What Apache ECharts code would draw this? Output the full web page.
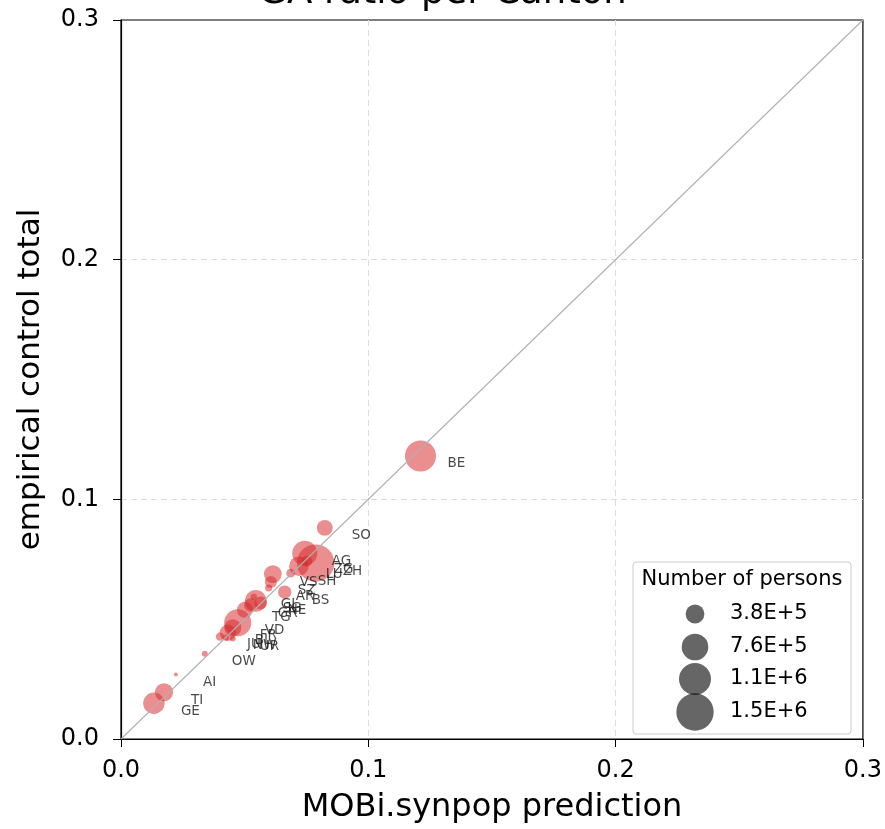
<!DOCTYPE html>
<html>
<head>
<meta charset="utf-8">
<script src="https://cdn.jsdelivr.net/npm/echarts@6/dist/echarts.min.js"></script>
<style>html,body{margin:0;padding:0;background:#fff}#c{width:885px;height:829px}</style>
</head>
<body>
<div id="c"></div>
<script>
const cantons   = ['ZH','BE','VD','AG','SG','GE','LU','TI','VS','FR','BL','SO','TG','GR','BS','NE','SZ','ZG','SH','JU','AR','NW','GL','UR','OW','AI'];
const predicted = [0.0787,0.1211,0.0472,0.0743,0.0545,0.0133,0.0719,0.0174,0.0614,0.0452,0.0432,0.0824,0.0501,0.0525,0.0662,0.0565,0.0606,0.0751,0.0686,0.0400,0.0597,0.0424,0.0537,0.0452,0.0339,0.0222];
const empirical = [0.0734,0.1181,0.0485,0.0775,0.0576,0.0149,0.0721,0.0195,0.0688,0.0464,0.0443,0.0881,0.0539,0.0559,0.0613,0.0568,0.0655,0.0742,0.0692,0.0427,0.0630,0.0423,0.0593,0.0419,0.0356,0.0269];
const persons   = [1504346,1031126,793129,670988,504686,493706,406506,353709,341463,315074,287023,271432,273801,197888,193070,178107,157301,125421,81351,73290,54954,42969,40349,36145,37575,16105];
const legendValues = [380000,760000,1100000,1500000];
const legendLabels = ['3.8E+5','7.6E+5','1.1E+6','1.5E+6'];
const axisTicks = [0.0,0.1,0.2,0.3];

const FONT = 'DejaVu Sans';
const sizeOf = p => 0.0305*Math.sqrt(p);

const chart = echarts.init(document.getElementById('c'));
const points = cantons.map((c,i)=>({name:c, value:[predicted[i], empirical[i], persons[i]]}));

const legendX = 633, legendY = 562, legendW = 218, legendH = 172;
const legendRowY = [614, 647, 679, 712];
const graphic = [
  {type:'rect', shape:{x:legendX,y:legendY,width:legendW,height:legendH,r:3}, style:{fill:'rgba(255,255,255,0.85)',stroke:'#cccccc',lineWidth:1}, z:100},
  {type:'text', x:legendX+legendW/2, y:580, style:{text:'Number of persons', font:'21px "'+FONT+'"', fill:'#000', align:'center', verticalAlign:'middle'}, z:101}
];
legendValues.forEach((v,i)=>{
  graphic.push({type:'circle', shape:{cx:695, cy:legendRowY[i], r:sizeOf(v)/2}, style:{fill:'rgba(0,0,0,0.6)'}, z:101});
  graphic.push({type:'text', x:730, y:legendRowY[i], style:{text:legendLabels[i], font:'21px "'+FONT+'"', fill:'#000', align:'left', verticalAlign:'middle'}, z:101});
});

const axisCommon = {
  type:'value', min:axisTicks[0], max:axisTicks[axisTicks.length-1], interval:0.1,
  nameLocation:'middle',
  axisLine:{show:true, lineStyle:{color:'#000', width:1.2}},
  axisTick:{show:true, length:8, lineStyle:{color:'#000', width:1}},
  splitLine:{show:true, showMinLine:false, showMaxLine:false, lineStyle:{color:'#dcdcdc', type:[6,4], width:1}}
};

chart.setOption({
  animation:false,
  backgroundColor:'#fff',
  title:{text:'GA ratio per Canton', left:'center', top:-30, textStyle:{fontFamily:FONT, fontSize:37, fontWeight:'normal', color:'#000'}},
  grid:{left:121, right:21, top:20, bottom:85, show:true, borderColor:'#000', borderWidth:1.2, backgroundColor:'transparent'},
  xAxis:Object.assign({}, axisCommon, {
    name:'MOBi.synpop prediction', nameGap:53,
    nameTextStyle:{fontFamily:FONT, fontSize:32, color:'#000'},
    axisLabel:{fontFamily:FONT, fontSize:24, color:'#000', margin:20, formatter:v=>v.toFixed(1)}}),
  yAxis:Object.assign({}, axisCommon, {
    name:'empirical control total', nameGap:75,
    nameTextStyle:{fontFamily:FONT, fontSize:31, color:'#000'},
    axisLabel:{fontFamily:FONT, fontSize:24, color:'#000', margin:22, formatter:v=>v.toFixed(1)}}),
  series:[
    {type:'scatter', data:points, symbol:'circle',
     symbolSize:(val)=>sizeOf(val[2]),
     itemStyle:{color:'rgba(214,39,40,0.65)'},
     label:{show:true, formatter:'{b}', position:'inside', align:'left', verticalAlign:'middle', offset:[27,8],
       fontFamily:FONT, fontSize:13.5, color:'#1a1a1a'},
     z:2},
    {type:'line', data:[[axisTicks[0],axisTicks[0]],[axisTicks[3],axisTicks[3]]], symbol:'none',
     lineStyle:{color:'#b0b0b0', width:1.1}, z:5, silent:true}
  ],
  graphic:graphic
});
</script>
</body>
</html>
